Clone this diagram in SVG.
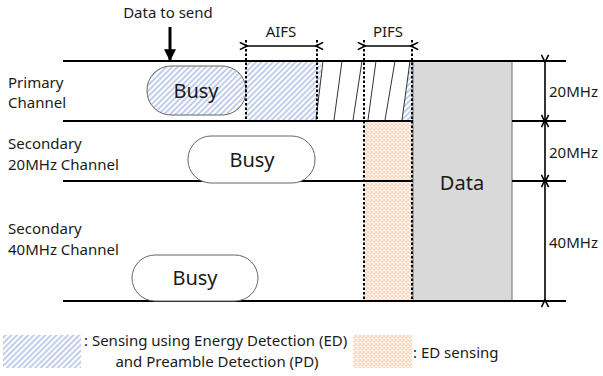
<svg xmlns="http://www.w3.org/2000/svg" width="603" height="376" viewBox="0 0 603 376">
<style>
text{font-family:"Noto Sans","Open Sans","Liberation Sans",sans-serif;fill:#1a1a1a}
.lbl{font-size:15px}
.busy{font-size:20px;text-anchor:middle}
.ch{stroke:#000;stroke-width:2;fill:none}
.dot{stroke:#000;stroke-width:2;stroke-dasharray:2.5,2;fill:none}
.dim{stroke:#000;stroke-width:1.6;fill:none}
.pill{stroke:#666;stroke-width:1}
.leg{font-size:15px}
</style>
<defs>
<pattern id="hb" width="4" height="4" patternUnits="userSpaceOnUse" patternTransform="rotate(45)">
<rect width="4" height="4" fill="#fff"/>
<line x1="1" y1="0" x2="1" y2="4" stroke="#a6b9e4" stroke-width="1.4"/>
</pattern>
<pattern id="ho" width="4" height="4" patternUnits="userSpaceOnUse">
<rect width="4" height="4" fill="#fff"/>
<path d="M0,0L4,4M4,0L0,4" stroke="#f9d2b6" stroke-width="1.1"/>
</pattern>
<marker id="chev" viewBox="0 0 10 10" refX="1" refY="5" markerWidth="9" markerHeight="9" orient="auto-start-reverse" markerUnits="userSpaceOnUse">
<path d="M9,1L1,5L9,9" fill="none" stroke="#000" stroke-width="1.8"/>
</marker>
<marker id="tri" viewBox="0 0 10 10" refX="9" refY="5" markerWidth="12" markerHeight="12" orient="auto" markerUnits="userSpaceOnUse">
<path d="M0,0L10,5L0,10Z" fill="#000"/>
</marker>
</defs>

<g id="regions">
<rect x="246" y="61" width="75" height="59" fill="url(#hb)"/>
<polygon points="322,61 410,61 402,120 316,120" fill="#fff"/>
<polygon points="410,61 413,61 413,120 402,120" fill="url(#hb)"/>
<rect x="364" y="121" width="48" height="180" fill="url(#ho)"/>
</g>

<g id="slant-lines" stroke="#333" stroke-width="1">
<line x1="323" y1="61" x2="316" y2="120"/>
<line x1="342" y1="61" x2="334" y2="120"/>
<line x1="362" y1="61" x2="353" y2="120"/>
<line x1="376" y1="61" x2="368" y2="120"/>
<line x1="395" y1="61" x2="385" y2="120"/>
<line x1="410" y1="61" x2="402" y2="120"/>
</g>

<g id="data">
<rect x="413" y="61" width="99" height="240" fill="#d9d9d9" stroke="#808080" stroke-width="1.2"/>
<text x="462" y="190" font-size="20" text-anchor="middle">Data</text>
</g>

<g id="channel-lines">
<line class="ch" x1="63" y1="61" x2="566" y2="61"/>
<line class="ch" x1="63" y1="121" x2="413" y2="121"/>
<line class="ch" x1="512" y1="121" x2="566" y2="121"/>
<line class="ch" x1="63" y1="181" x2="413" y2="181"/>
<line class="ch" x1="512" y1="181" x2="566" y2="181"/>
<line class="ch" x1="63" y1="301" x2="566" y2="301"/>
</g>

<g id="busy-primary">
<rect class="pill" x="147" y="66" width="99" height="49" rx="24" fill="url(#hb)"/>
<text class="busy" x="196" y="98">Busy</text>
</g>
<g id="busy-sec20">
<rect class="pill" x="188" y="136" width="127" height="47" rx="23" fill="#fff"/>
<text class="busy" x="252" y="167">Busy</text>
</g>
<g id="busy-sec40">
<rect class="pill" x="132" y="255" width="126" height="46" rx="23" fill="#fff"/>
<text class="busy" x="195" y="285">Busy</text>
</g>

<g id="labels">
<text class="lbl" x="8" y="88">Primary</text>
<text class="lbl" x="8" y="108">Channel</text>
<text class="lbl" x="8" y="149">Secondary</text>
<text class="lbl" x="8" y="170">20MHz Channel</text>
<text class="lbl" x="8" y="234">Secondary</text>
<text class="lbl" x="8" y="255">40MHz Channel</text>
<text class="lbl" x="168" y="18" text-anchor="middle">Data to send</text>
<text class="lbl" x="281" y="37" text-anchor="middle">AIFS</text>
<text class="lbl" x="388" y="37" text-anchor="middle">PIFS</text>
<text class="lbl" x="549" y="97">20MHz</text>
<text class="lbl" x="549" y="158">20MHz</text>
<text class="lbl" x="549" y="248">40MHz</text>
</g>

<g id="connectors">
<line x1="170" y1="27" x2="170" y2="60" stroke="#000" stroke-width="3" marker-end="url(#tri)"/>
<line class="dot" x1="246" y1="40" x2="246" y2="121"/>
<line class="dot" x1="317" y1="40" x2="317" y2="121"/>
<line class="dot" x1="364" y1="40" x2="364" y2="301"/>
<line class="dot" x1="412" y1="40" x2="412" y2="301"/>
<line class="dim" x1="247" y1="46" x2="316" y2="46" marker-start="url(#chev)" marker-end="url(#chev)"/>
<line class="dim" x1="365" y1="46" x2="411" y2="46" marker-start="url(#chev)" marker-end="url(#chev)"/>
<line class="dim" x1="545" y1="62" x2="545" y2="120" marker-start="url(#chev)" marker-end="url(#chev)"/>
<line class="dim" x1="545" y1="122" x2="545" y2="180" marker-start="url(#chev)" marker-end="url(#chev)"/>
<line class="dim" x1="545" y1="182" x2="545" y2="300" marker-start="url(#chev)" marker-end="url(#chev)"/>
</g>

<g id="legend">
<rect x="3" y="335" width="78" height="33" fill="url(#hb)"/>
<text class="leg" x="84" y="346">: Sensing using Energy Detection (ED)</text>
<text class="leg" x="217" y="367" text-anchor="middle">and Preamble Detection (PD)</text>
<rect x="353" y="335" width="59" height="33" fill="url(#ho)"/>
<text class="leg" x="413" y="358">: ED sensing</text>
</g>
</svg>
